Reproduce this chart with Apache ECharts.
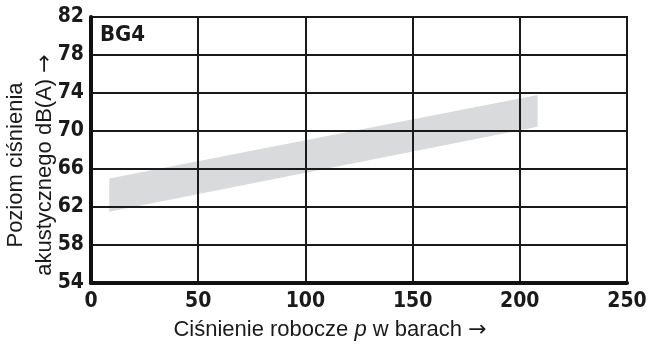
<!DOCTYPE html>
<html><head><meta charset="utf-8">
<script src="https://cdn.jsdelivr.net/npm/echarts@6/dist/echarts.min.js"></script>
<style>html,body{margin:0;padding:0;background:#fff}#c{width:654px;height:345px}</style>
</head><body><div id="c"></div>
<script>
const bandX = [8.5, 208.3];
const bandLower = [61.5, 70.45];
const bandUpper = [65.0, 73.8];
const xTicks = [0, 50, 100, 150, 200, 250];
const yTicks = [54, 58, 62, 66, 70, 74, 78, 82];
const panelLabel = 'BG4';
const xTitle = ['Ciśnienie robocze ', 'p', ' w barach ', '→'];
const yTitle = ['Poziom ciśnienia', 'akustycznego dB(A) ', '→'];

const chart = echarts.init(document.getElementById('c'));
const labelFont = {fontFamily: 'DejaVu Sans Condensed', fontWeight: 'bold', fontSize: 21, color: '#1a1a1a'};
chart.setOption({
  animation: false,
  grid: {left: 91, right: 27, top: 17, bottom: 62, show: true, borderColor: '#1a1a1a', borderWidth: 2, backgroundColor: 'transparent', z: 0},
  xAxis: {
    type: 'value', min: xTicks[0], max: xTicks[xTicks.length-1], interval: 50,
    axisLine: {show: true, lineStyle: {color: '#111', width: 4}},
    axisTick: {show: false},
    splitLine: {show: true, lineStyle: {color: '#1a1a1a', width: 2}},
    axisLabel: Object.assign({margin: 8}, labelFont)
  },
  yAxis: {
    type: 'value', min: yTicks[0], max: yTicks[yTicks.length-1], interval: 4,
    axisLine: {show: true, lineStyle: {color: '#111', width: 4}},
    axisTick: {show: false},
    splitLine: {show: true, lineStyle: {color: '#1a1a1a', width: 2}},
    axisLabel: Object.assign({margin: 7}, labelFont)
  },
  series: [{
    type: 'custom',
    data: [[bandX[0], bandLower[0], bandUpper[0], bandX[1], bandLower[1], bandUpper[1]]],
    encode: {x: [0, 3], y: [1, 2, 4, 5]},
    z: -1,
    renderItem: function (params, api) {
      const p1 = api.coord([api.value(0), api.value(1)]);
      const p2 = api.coord([api.value(3), api.value(4)]);
      const p3 = api.coord([api.value(3), api.value(5)]);
      const p4 = api.coord([api.value(0), api.value(2)]);
      return {type: 'polygon', shape: {points: [p1, p2, p3, p4]}, style: {fill: '#d9dadb'}};
    }
  }],
  graphic: [
    {type: 'text', left: 100, top: 24, z: 10, style: {text: panelLabel, font: 'bold 22px "DejaVu Sans Condensed"', fill: '#1a1a1a'}},
    {type: 'text', x: 330, y: 330, z: 10, style: {
      text: '{a|' + xTitle[0] + '}{b|' + xTitle[1] + '}{a|' + xTitle[2] + '}{c|' + xTitle[3] + '}',
      align: 'center', verticalAlign: 'middle',
      rich: {a: {font: '22px "Liberation Sans"', fill: '#1a1a1a'}, b: {font: 'italic 22px "Liberation Sans"', fill: '#1a1a1a'}, c: {font: '22px "DejaVu Sans"', fill: '#1a1a1a'}}
    }},
    {type: 'text', x: 16, y: 165, rotation: Math.PI/2, z: 10, style: {text: yTitle[0], font: '22px "Liberation Sans"', fill: '#1a1a1a', align: 'center', verticalAlign: 'middle'}},
    {type: 'text', x: 45, y: 165, rotation: Math.PI/2, z: 10, style: {
      text: '{a|' + yTitle[1] + '}{c|' + yTitle[2] + '}', align: 'center', verticalAlign: 'middle',
      rich: {a: {font: '22px "Liberation Sans"', fill: '#1a1a1a'}, c: {font: '22px "DejaVu Sans"', fill: '#1a1a1a'}}
    }}
  ]
});
</script></body></html>
